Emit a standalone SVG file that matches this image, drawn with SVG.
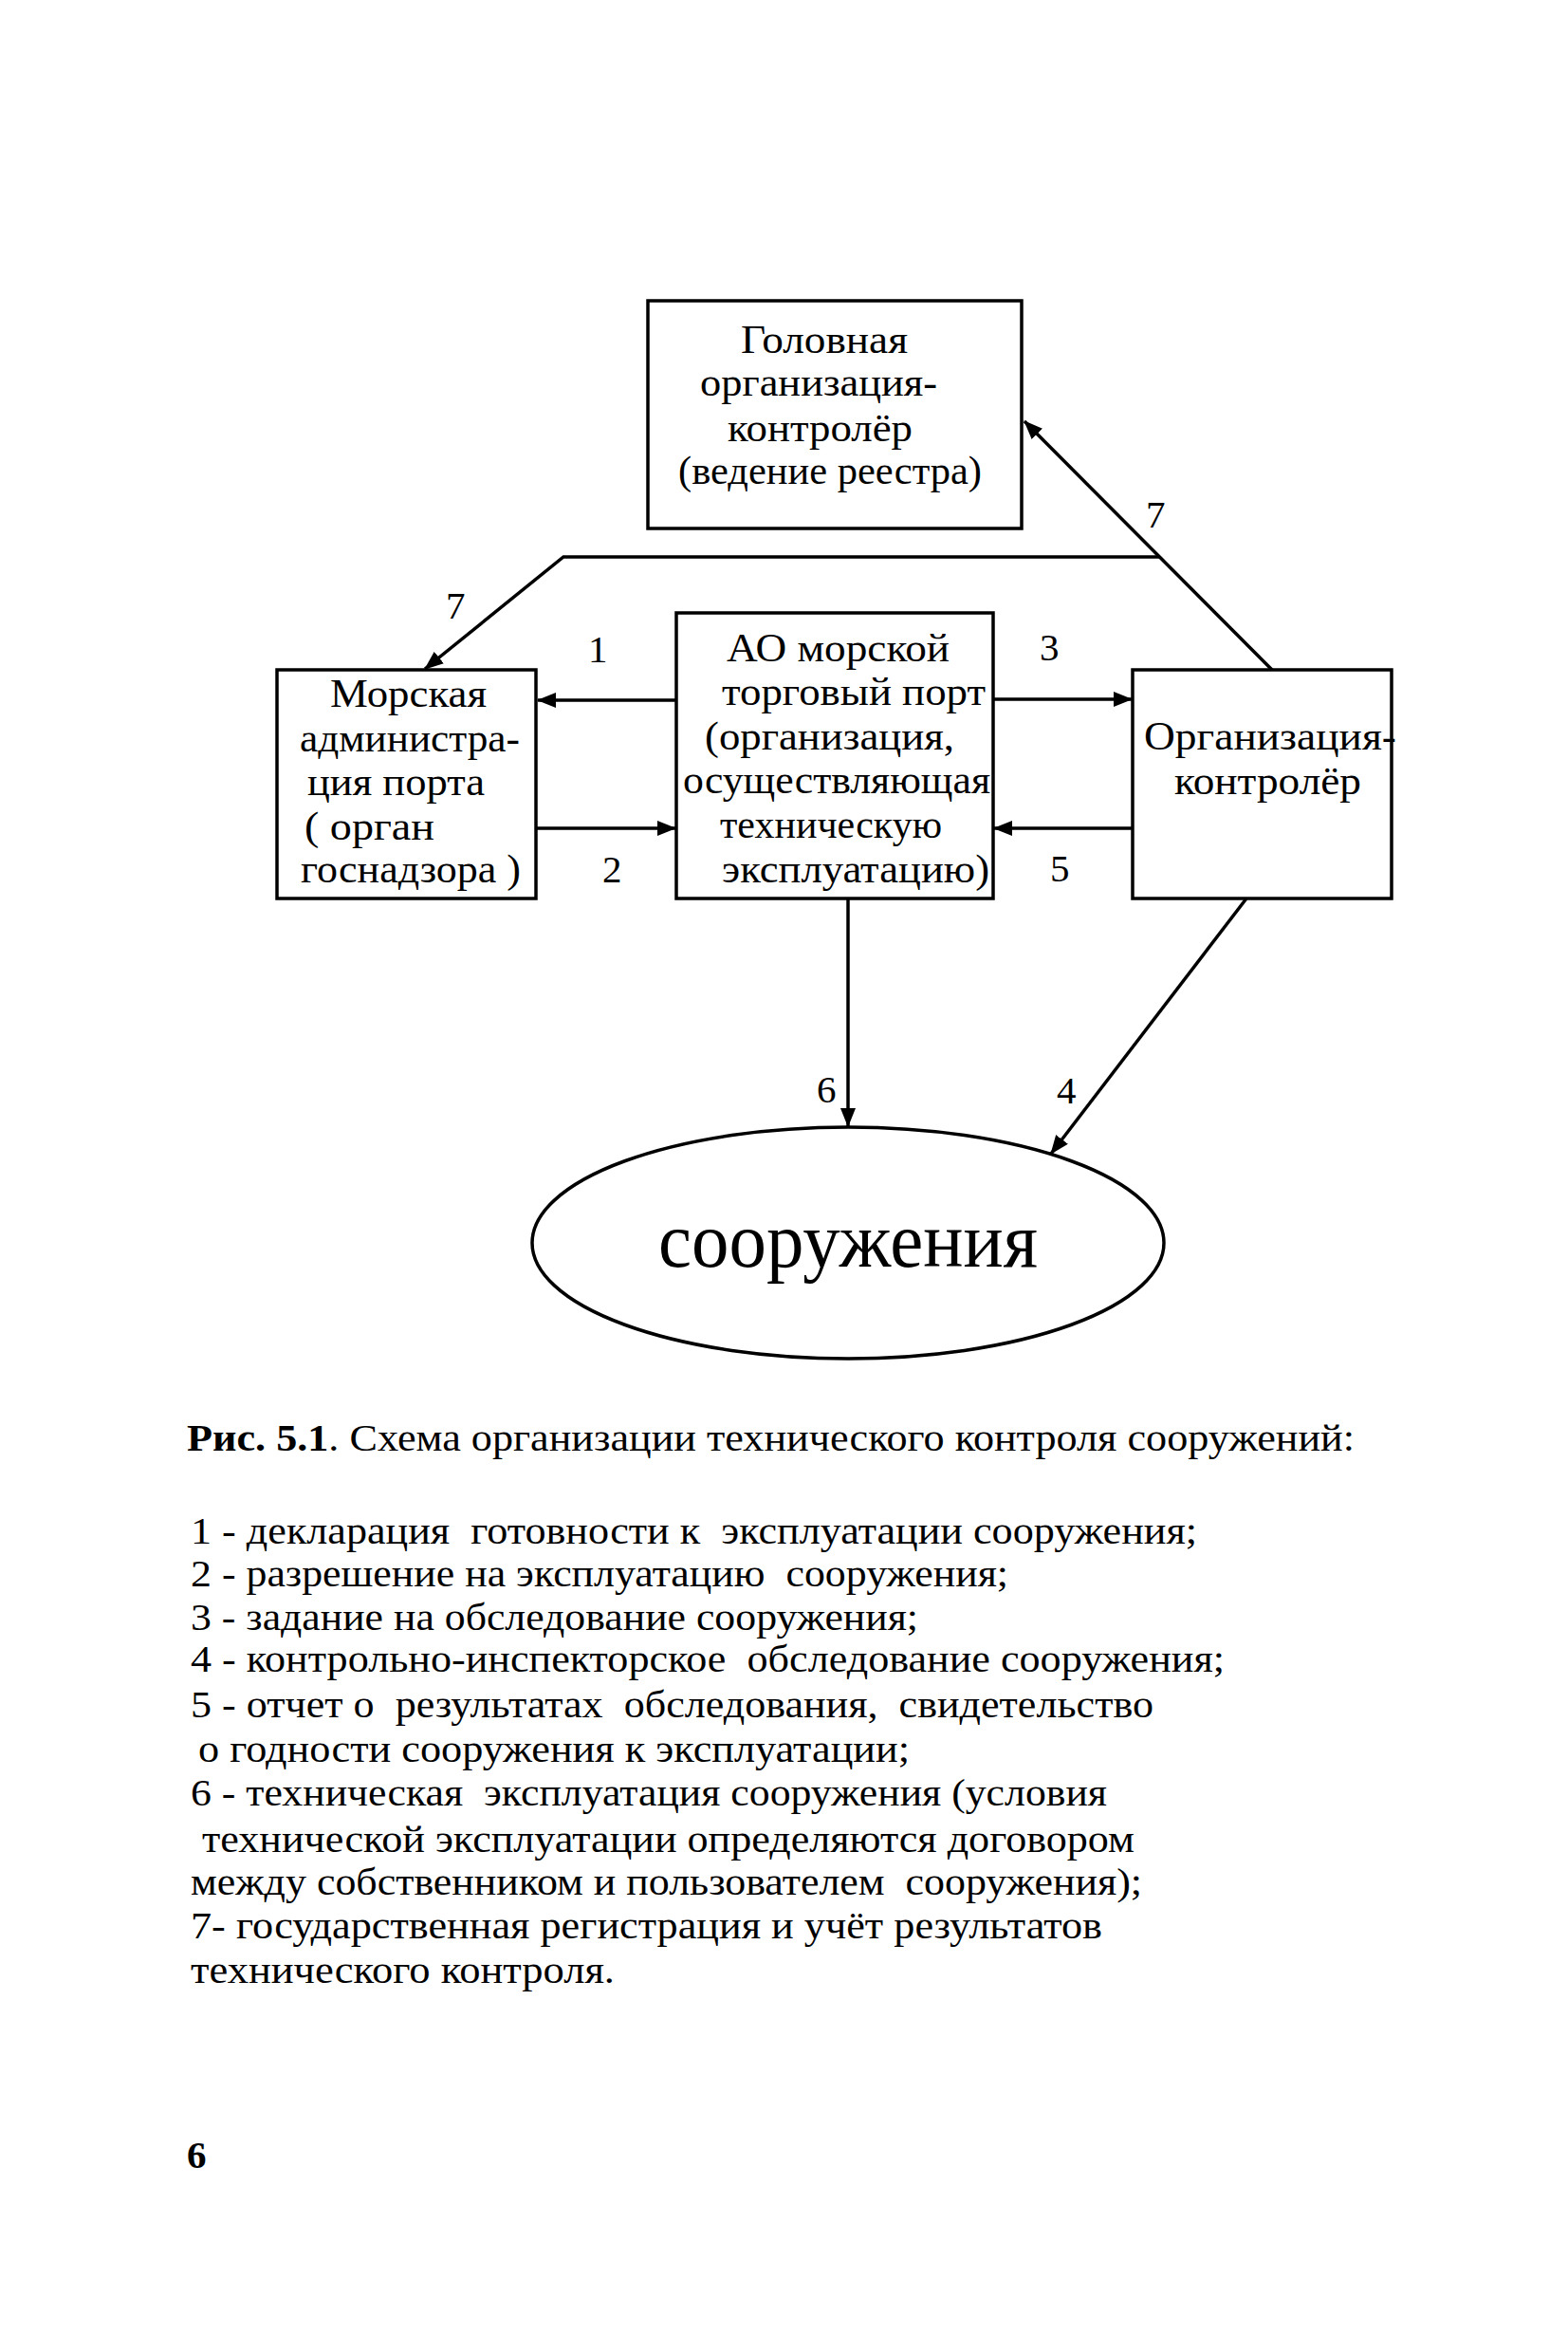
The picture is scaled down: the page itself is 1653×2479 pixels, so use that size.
<svg xmlns="http://www.w3.org/2000/svg" width="1653" height="2479" viewBox="0 0 1653 2479">
<style>
.box{fill:none;stroke:#000;stroke-width:3.5}
.ln{fill:none;stroke:#000;stroke-width:3.5}
.t{font-family:"Liberation Serif","Times New Roman",serif;font-size:43px;fill:#000}
.lbl{font-family:"Liberation Serif","Times New Roman",serif;font-size:41px;fill:#000}
.big{font-family:"Liberation Serif","Times New Roman",serif;font-size:82px;fill:#000}
.cap{font-family:"Liberation Serif","Times New Roman",serif;font-size:41px;fill:#000}
</style>
<defs>
<marker id="ah" markerUnits="userSpaceOnUse" markerWidth="20" markerHeight="16" refX="19" refY="8" orient="auto">
<path d="M0,0 L20,8 L0,16 z" fill="#000"/>
</marker>
</defs>
<rect width="1653" height="2479" fill="#fff"/>
<g id="connectors">
<path class="ln" d="M1341,706 L1080,444" marker-end="url(#ah)"/>
<path class="ln" d="M1222,587 H594 L448,705" marker-end="url(#ah)"/>
<path class="ln" d="M713,738 H567" marker-end="url(#ah)"/>
<path class="ln" d="M565,873 H712" marker-end="url(#ah)"/>
<path class="ln" d="M1047,737 H1193" marker-end="url(#ah)"/>
<path class="ln" d="M1194,873 H1048" marker-end="url(#ah)"/>
<path class="ln" d="M894,947 V1187" marker-end="url(#ah)"/>
<path class="ln" d="M1314,947 L1108,1216" marker-end="url(#ah)"/>
<text class="lbl" x="1208" y="556">7</text>
<text class="lbl" x="470" y="652">7</text>
<text class="lbl" x="620" y="698">1</text>
<text class="lbl" x="635" y="930">2</text>
<text class="lbl" x="1096" y="696">3</text>
<text class="lbl" x="1107" y="929">5</text>
<text class="lbl" x="861" y="1162">6</text>
<text class="lbl" x="1114" y="1163">4</text>
</g>
<g id="node-head">
<rect class="box" x="683" y="317" width="394" height="240"/>
<text class="t" x="781" y="372" textLength="176" lengthAdjust="spacingAndGlyphs">Головная</text>
<text class="t" x="738" y="417" textLength="250" lengthAdjust="spacingAndGlyphs">организация-</text>
<text class="t" x="767" y="465" textLength="195" lengthAdjust="spacingAndGlyphs">контролёр</text>
<text class="t" x="715" y="510" textLength="320" lengthAdjust="spacingAndGlyphs">(ведение реестра)</text>
</g>
<g id="node-admin">
<rect class="box" x="292" y="706" width="273" height="241"/>
<text class="t" x="348" y="745" textLength="165" lengthAdjust="spacingAndGlyphs">Морская</text>
<text class="t" x="316" y="792" textLength="232" lengthAdjust="spacingAndGlyphs">администра-</text>
<text class="t" x="324" y="838" textLength="187" lengthAdjust="spacingAndGlyphs">ция порта</text>
<text class="t" x="321" y="885" textLength="137" lengthAdjust="spacingAndGlyphs">( орган</text>
<text class="t" x="317" y="930" textLength="232" lengthAdjust="spacingAndGlyphs">госнадзора )</text>
</g>
<g id="node-port">
<rect class="box" x="713" y="646" width="334" height="301"/>
<text class="t" x="766" y="697" textLength="235" lengthAdjust="spacingAndGlyphs">АО морской</text>
<text class="t" x="761" y="743" textLength="278" lengthAdjust="spacingAndGlyphs">торговый порт</text>
<text class="t" x="743" y="790" textLength="263" lengthAdjust="spacingAndGlyphs">(организация,</text>
<text class="t" x="720" y="836" textLength="324" lengthAdjust="spacingAndGlyphs">осуществляющая</text>
<text class="t" x="759" y="883" textLength="234" lengthAdjust="spacingAndGlyphs">техническую</text>
<text class="t" x="761" y="930" textLength="282" lengthAdjust="spacingAndGlyphs">эксплуатацию)</text>
</g>
<g id="node-controller">
<rect class="box" x="1194" y="706" width="273" height="241"/>
<text class="t" x="1206" y="790" textLength="266" lengthAdjust="spacingAndGlyphs">Организация-</text>
<text class="t" x="1238" y="837" textLength="197" lengthAdjust="spacingAndGlyphs">контролёр</text>
</g>
<g id="node-structures">
<ellipse class="box" cx="894" cy="1310" rx="333" ry="122"/>
<text class="big" x="694" y="1335" textLength="400" lengthAdjust="spacingAndGlyphs">сооружения</text>
</g>
<g id="caption">
<text class="cap" x="197" y="1529" textLength="1231" lengthAdjust="spacingAndGlyphs"><tspan font-weight="bold">Рис. 5.1</tspan>. Схема организации технического контроля сооружений:</text>
<text class="cap" x="201" y="1627" textLength="1061" lengthAdjust="spacingAndGlyphs" xml:space="preserve">1 - декларация  готовности к  эксплуатации сооружения;</text>
<text class="cap" x="201" y="1672" textLength="862" lengthAdjust="spacingAndGlyphs" xml:space="preserve">2 - разрешение на эксплуатацию  сооружения;</text>
<text class="cap" x="201" y="1718" textLength="767" lengthAdjust="spacingAndGlyphs">3 - задание на обследование сооружения;</text>
<text class="cap" x="201" y="1762" textLength="1090" lengthAdjust="spacingAndGlyphs" xml:space="preserve">4 - контрольно-инспекторское  обследование сооружения;</text>
<text class="cap" x="201" y="1810" textLength="1015" lengthAdjust="spacingAndGlyphs" xml:space="preserve">5 - отчет о  результатах  обследования,  свидетельство</text>
<text class="cap" x="209" y="1857" textLength="750" lengthAdjust="spacingAndGlyphs">о годности сооружения к эксплуатации;</text>
<text class="cap" x="201" y="1903" textLength="966" lengthAdjust="spacingAndGlyphs" xml:space="preserve">6 - техническая  эксплуатация сооружения (условия</text>
<text class="cap" x="213" y="1952" textLength="983" lengthAdjust="spacingAndGlyphs">технической эксплуатации определяются договором</text>
<text class="cap" x="201" y="1997" textLength="1003" lengthAdjust="spacingAndGlyphs" xml:space="preserve">между собственником и пользователем  сооружения);</text>
<text class="cap" x="201" y="2043" textLength="961" lengthAdjust="spacingAndGlyphs">7- государственная регистрация и учёт результатов</text>
<text class="cap" x="201" y="2090" textLength="447" lengthAdjust="spacingAndGlyphs">технического контроля.</text>
</g>
<text class="cap" x="197" y="2285" font-weight="bold" font-size="46">6</text>
</svg>
